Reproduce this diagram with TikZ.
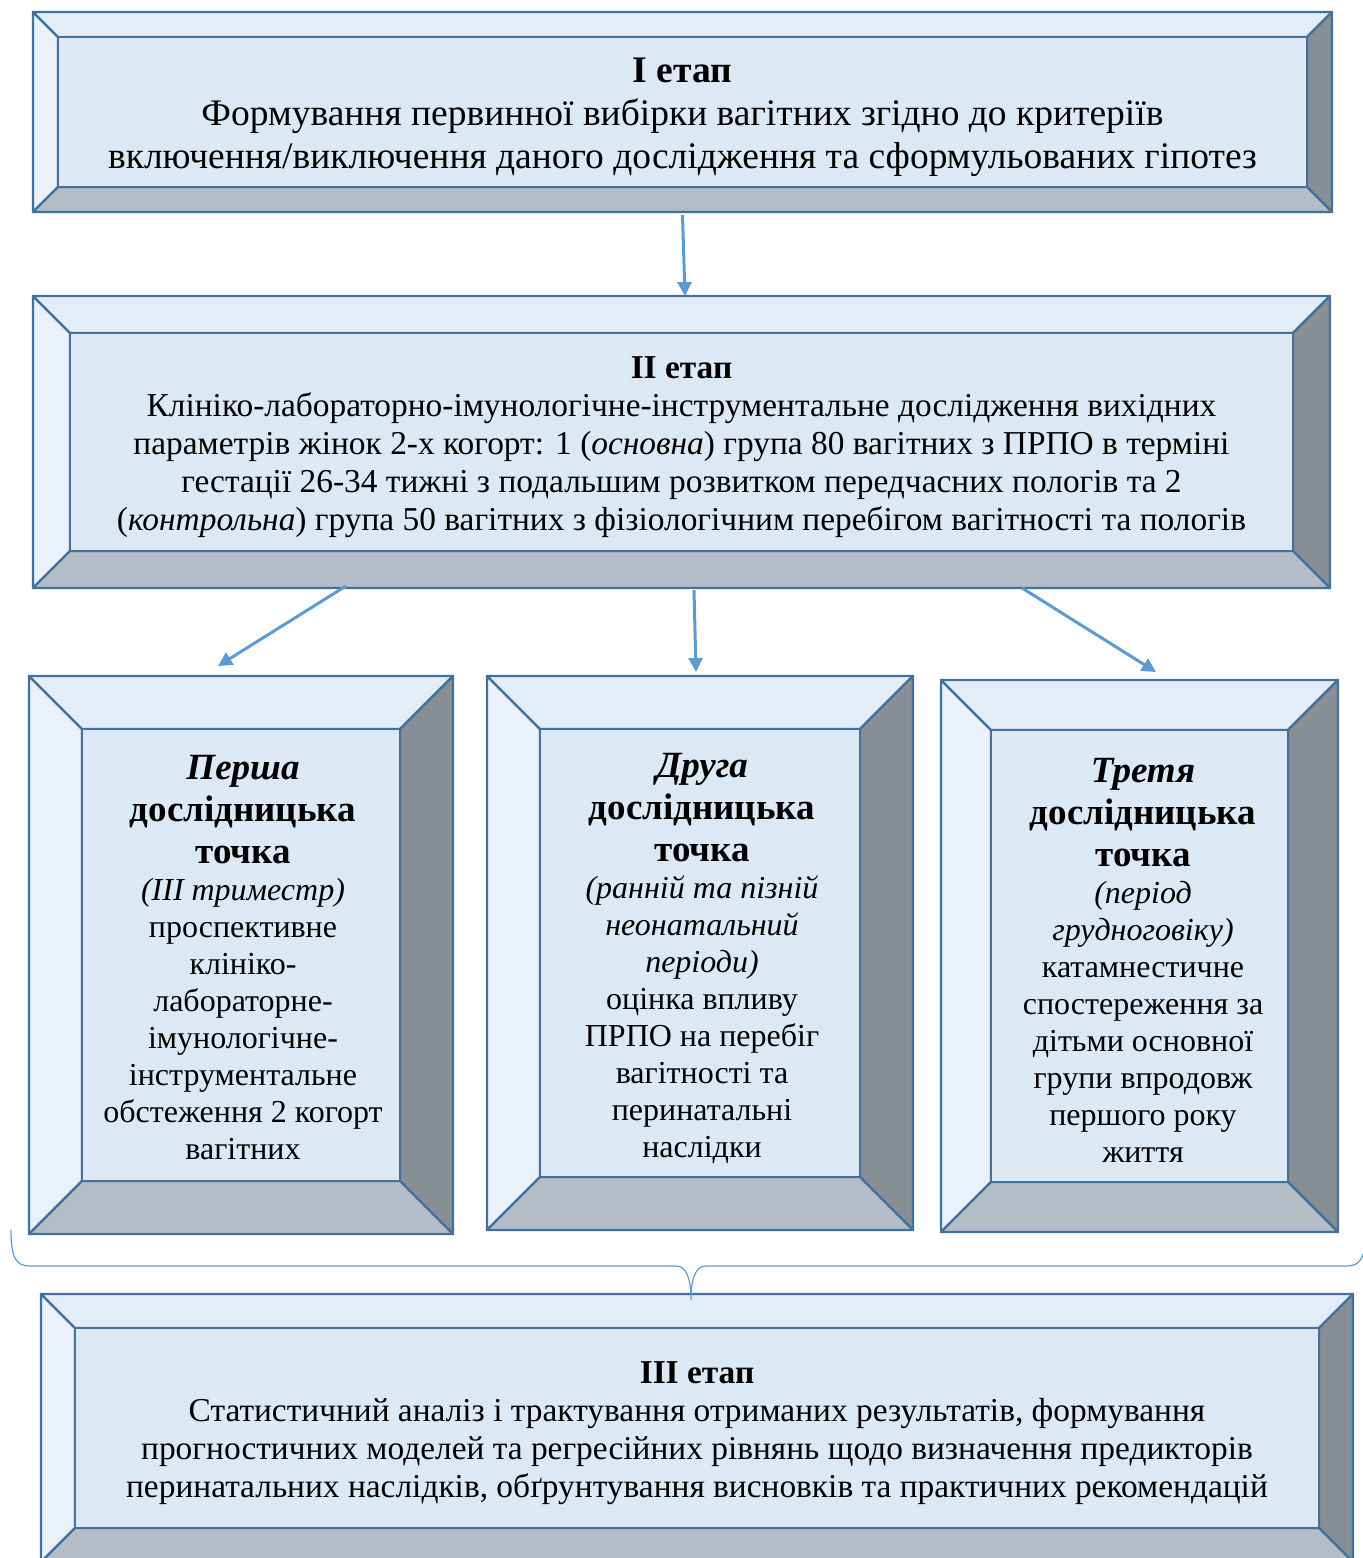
\documentclass[tikz,border=0pt]{standalone}
\usepackage{fontspec}
\setmainfont{Liberation Serif}
\usetikzlibrary{arrows.meta,calc,positioning}
\definecolor{StageEdge}{RGB}{65,113,156}
\definecolor{FaceTop}{RGB}{227,237,248}
\definecolor{FaceLeft}{RGB}{234,241,250}
\definecolor{FaceMid}{RGB}{221,232,245}
\definecolor{FaceLow}{RGB}{179,188,199}
\definecolor{FaceRight}{RGB}{135,142,150}
\definecolor{FlowBlue}{RGB}{91,155,213}

\tikzset{
  stage/.style={draw=StageEdge, line width=1.2pt, outer sep=0pt, inner sep=0pt},
  face/.style={draw=StageEdge, line width=1.2pt, line join=round},
  flow/.style={-{Triangle[length=7pt,width=7pt]}, draw=FlowBlue, line width=1.5pt},
  bigtext/.style={align=center, font=\fontsize{18.75}{21.5}\selectfont},
  midtext/.style={align=center, font=\fontsize{16.7}{19}\selectfont},
  coltext/.style={align=center, font=\fontsize{16}{18.5}\selectfont},
}

% bevelled frame round a node: name, depth
\newcommand{\bevelfaces}[2]{%
  \coordinate (#1-a) at ([shift={(#2,-#2)}]#1.north west);
  \coordinate (#1-b) at ([shift={(-#2,-#2)}]#1.north east);
  \coordinate (#1-c) at ([shift={(-#2,#2)}]#1.south east);
  \coordinate (#1-d) at ([shift={(#2,#2)}]#1.south west);
  \filldraw[face, fill=FaceLeft] (#1.north west) -- (#1-a) -- (#1-d) -- (#1.south west) -- cycle;
  \filldraw[face, fill=FaceTop] (#1.north west) -- (#1.north east) -- (#1-b) -- (#1-a) -- cycle;
  \filldraw[face, fill=FaceRight] (#1.north east) -- (#1.south east) -- (#1-c) -- (#1-b) -- cycle;
  \filldraw[face, fill=FaceLow] (#1.south west) -- (#1.south east) -- (#1-c) -- (#1-d) -- cycle;
  \filldraw[face, fill=FaceMid] (#1-a) rectangle (#1-c);
}
\newcommand{\headline}[1]{{\fontsize{18.5}{21}\selectfont\bfseries #1}}

\begin{document}
\begin{tikzpicture}[x=0.5pt, y=-0.5pt]
  \useasboundingbox (0,0) rectangle (1363,1558);
  \clip (0,0) rectangle (1363,1558);

  % Stage frames
  \node[stage, minimum width=649.5pt, minimum height=100pt] (s1) at (682.5,112) {};
  \node[stage, minimum width=648.5pt, minimum height=146pt] (s2) at (681.5,442) {};
  \node[stage, minimum width=212pt, minimum height=279pt] (p1) at (241,955) {};
  \node[stage, minimum width=213pt, minimum height=277pt] (p2) at (700,953) {};
  \node[stage, minimum width=198.5pt, minimum height=276pt] (p3) at (1139.5,956) {};
  \node[stage, minimum width=656pt, minimum height=134pt] (s3) at (697,1428) {};

  \bevelfaces{s1}{12.5pt}
  \bevelfaces{s2}{18.5pt}
  \bevelfaces{p1}{26.5pt}
  \bevelfaces{p2}{26.5pt}
  \bevelfaces{p3}{25pt}
  \bevelfaces{s3}{17pt}

  % Texts
  \node[bigtext] (t1) at (682.5,117) {\textbf{І етап}\\
    Формування первинної вибірки вагітних згідно до критеріїв\\
    включення/виключення даного дослідження та сформульованих гіпотез};
  \node[midtext] (t2) at (681.5,447) {\textbf{ІІ етап}\\
    Клініко-лабораторно-імунологічне-інструментальне дослідження вихідних\\
    параметрів жінок 2-х когорт: 1 (\textit{основна}) група 80 вагітних з ПРПО в терміні\\
    гестації 26-34 тижні з подальшим розвитком передчасних пологів та 2\\
    (\textit{контрольна}) група 50 вагітних з фізіологічним перебігом вагітності та пологів};
  \node[coltext] (u1) at (243,958) {\headline{\itshape Перша}\\[2.5pt]
    \headline{дослідницька}\\[2.5pt]
    \headline{точка}\\
    \textit{(ІІІ триместр)}\\
    проспективне\\ клініко-\\ лабораторне-\\ імунологічне-\\ інструментальне\\
    обстеження 2 когорт\\ вагітних};
  \node[coltext] (u2) at (702,958) {\headline{\itshape Друга}\\[2.5pt]
    \headline{дослідницька}\\[2.5pt]
    \headline{точка}\\
    \textit{(ранній та пізній}\\ \textit{неонатальний}\\ \textit{періоди)}\\
    оцінка впливу\\ ПРПО на перебіг\\ вагітності та\\ перинатальні\\ наслідки};
  \node[coltext] (u3) at (1143,960) {\headline{\itshape Третя}\\[2.5pt]
    \headline{дослідницька}\\[2.5pt]
    \headline{точка}\\
    \textit{(період}\\ \textit{грудноговіку)}\\
    катамнестичне\\ спостереження за\\ дітьми основної\\ групи впродовж\\
    першого року\\ життя};
  \node[midtext] (t3) at (697,1433) {\textbf{ІІІ етап}\\
    Статистичний аналіз і трактування отриманих результатів, формування\\
    прогностичних моделей та регресійних рівнянь щодо визначення предикторів\\
    перинатальних наслідків, обґрунтування висновків та практичних рекомендацій};

  % Arrows
  \draw[flow] ([yshift=-1.5pt]s1.south) -- ([xshift=1.75pt]s2.north);
  \draw[flow] ([xshift=-167.75pt,yshift=1pt]s2.south) -- ([xshift=-11.5pt,yshift=5pt]p1.north);
  \draw[flow] ([xshift=6.25pt,yshift=-1pt]s2.south) -- ([xshift=-2pt,yshift=2pt]p2.north);
  \draw[flow] ([xshift=170.25pt]s2.south) -- ([xshift=8.25pt,yshift=4pt]p3.north);

  % Brace over the three points
  \draw[FlowBlue, line width=0.6pt]
    (11,1230) .. controls (11,1258) and (16,1266) .. (30,1266) -- (676,1266)
    .. controls (687,1266) and (691,1280) .. (691,1300)
    .. controls (691,1280) and (695,1266) .. (706,1266) -- (1346,1266)
    .. controls (1356,1266) and (1361,1262) .. (1363,1254);
\end{tikzpicture}
\end{document}
